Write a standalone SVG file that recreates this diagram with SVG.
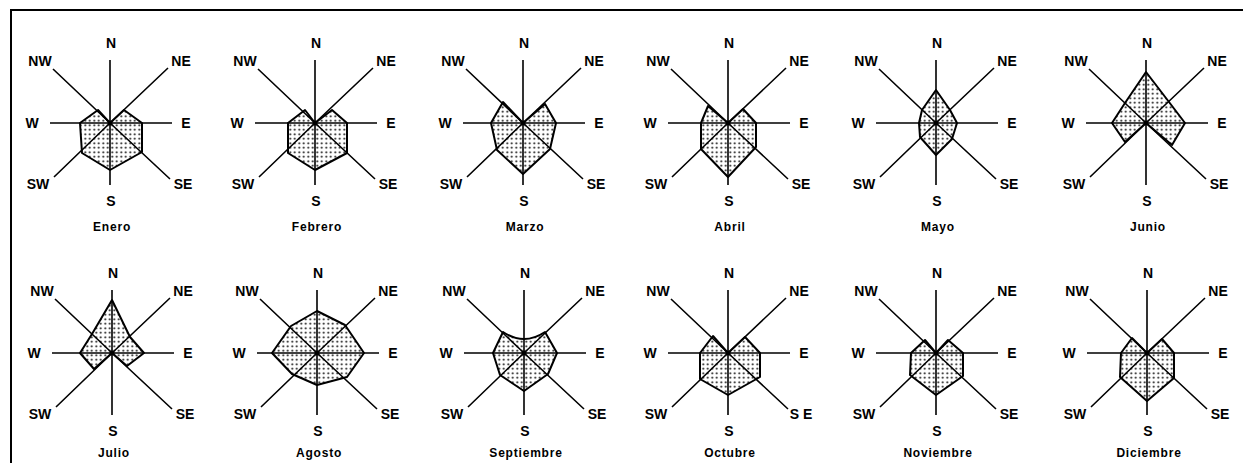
<svg xmlns="http://www.w3.org/2000/svg" xmlns:xlink="http://www.w3.org/1999/xlink" width="1243" height="463" viewBox="0 0 1243 463">
<style>
.poly{fill:url(#dots);stroke:#000;stroke-width:2;stroke-linejoin:round}
.lbl{font-family:"Liberation Sans",Arial,sans-serif;font-weight:bold;font-size:14px;text-anchor:middle;fill:#000}
.mon{font-family:"Liberation Sans",Arial,sans-serif;font-weight:bold;font-size:12px;letter-spacing:0.8px;text-anchor:middle;fill:#000}
.frame{stroke:#000;stroke-width:2;fill:none}
</style>
<defs>
<pattern id="dots" width="4.5" height="4.5" patternUnits="userSpaceOnUse"><rect width="4.5" height="4.5" fill="#fff"/><circle cx="2.25" cy="2.25" r="1" fill="#000"/></pattern>
<path id="axes" d="M0,-63V62M-60,0H62M0,0L-57,-54M0,0L58,-55M0,0L-56,54M0,0L60,56" stroke="#000" stroke-width="1.6" fill="none"/>
</defs>
<path class="frame" d="M11,463V10H1243"/>

<g id="rose-enero" transform="translate(110,123)">
<polygon class="poly" points="0,0 14,-13 32,0 32,29 0,47 -28,30 -30,0 -12,-13"/>
<use xlink:href="#axes"/><circle r="2.5"/>
<text class="lbl" x="1" y="-75">N</text><text class="lbl" x="-70" y="-57">NW</text><text class="lbl" x="71" y="-57">NE</text>
<text class="lbl" x="-78" y="5">W</text><text class="lbl" x="76" y="5">E</text>
<text class="lbl" x="-72" y="66">SW</text><text class="lbl" x="73" y="66">SE</text><text class="lbl" x="1" y="83">S</text>
<text class="mon" x="2" y="108">Enero</text>
</g>

<g id="rose-febrero" transform="translate(315,123)">
<polygon class="poly" points="0,0 17,-13 32,0 32,30 0,47 -27,30 -27,0 -10,-13"/>
<use xlink:href="#axes"/><circle r="2.5"/>
<text class="lbl" x="1" y="-75">N</text><text class="lbl" x="-70" y="-57">NW</text><text class="lbl" x="71" y="-57">NE</text>
<text class="lbl" x="-78" y="5">W</text><text class="lbl" x="76" y="5">E</text>
<text class="lbl" x="-72" y="66">SW</text><text class="lbl" x="73" y="66">SE</text><text class="lbl" x="1" y="83">S</text>
<text class="mon" x="2" y="108">Febrero</text>
</g>

<g id="rose-marzo" transform="translate(523,123)">
<polygon class="poly" points="0,0 22,-19 33,0 27,26 0,51 -26,27 -32,0 -20,-21"/>
<use xlink:href="#axes"/><circle r="2.5"/>
<text class="lbl" x="1" y="-75">N</text><text class="lbl" x="-70" y="-57">NW</text><text class="lbl" x="71" y="-57">NE</text>
<text class="lbl" x="-78" y="5">W</text><text class="lbl" x="76" y="5">E</text>
<text class="lbl" x="-72" y="66">SW</text><text class="lbl" x="73" y="66">SE</text><text class="lbl" x="1" y="83">S</text>
<text class="mon" x="2" y="108">Marzo</text>
</g>

<g id="rose-abril" transform="translate(728,123)">
<polygon class="poly" points="0,0 15,-14 28,0 28,24 0,54 -27,26 -27,0 -20,-17"/>
<use xlink:href="#axes"/><circle r="2.5"/>
<text class="lbl" x="1" y="-75">N</text><text class="lbl" x="-70" y="-57">NW</text><text class="lbl" x="71" y="-57">NE</text>
<text class="lbl" x="-78" y="5">W</text><text class="lbl" x="76" y="5">E</text>
<text class="lbl" x="-72" y="66">SW</text><text class="lbl" x="73" y="66">SE</text><text class="lbl" x="1" y="83">S</text>
<text class="mon" x="2" y="108">Abril</text>
</g>

<g id="rose-mayo" transform="translate(936,123)">
<polygon class="poly" points="0,-33 14,-13 21,0 16,16 0,32 -16,14 -17,0 -14,-13"/>
<use xlink:href="#axes"/><circle r="2.5"/>
<text class="lbl" x="1" y="-75">N</text><text class="lbl" x="-70" y="-57">NW</text><text class="lbl" x="71" y="-57">NE</text>
<text class="lbl" x="-78" y="5">W</text><text class="lbl" x="76" y="5">E</text>
<text class="lbl" x="-72" y="66">SW</text><text class="lbl" x="73" y="66">SE</text><text class="lbl" x="1" y="83">S</text>
<text class="mon" x="2" y="108">Mayo</text>
</g>

<g id="rose-junio" transform="translate(1146,123)">
<polygon class="poly" points="0,-51 23,-21 39,0 26,22 0,0 -21,19 -34,0 -21,-20"/>
<use xlink:href="#axes"/><circle r="2.5"/>
<text class="lbl" x="1" y="-75">N</text><text class="lbl" x="-70" y="-57">NW</text><text class="lbl" x="71" y="-57">NE</text>
<text class="lbl" x="-78" y="5">W</text><text class="lbl" x="76" y="5">E</text>
<text class="lbl" x="-72" y="66">SW</text><text class="lbl" x="73" y="66">SE</text><text class="lbl" x="1" y="83">S</text>
<text class="mon" x="2" y="108">Junio</text>
</g>

<g id="rose-julio" transform="translate(112,353)">
<polygon class="poly" points="0,-53 18,-16 32,0 15,13 0,0 -18,16 -32,0 -20,-19"/>
<use xlink:href="#axes"/><circle r="2.5"/>
<text class="lbl" x="1" y="-75">N</text><text class="lbl" x="-70" y="-57">NW</text><text class="lbl" x="71" y="-57">NE</text>
<text class="lbl" x="-78" y="5">W</text><text class="lbl" x="76" y="5">E</text>
<text class="lbl" x="-72" y="66">SW</text><text class="lbl" x="73" y="66">SE</text><text class="lbl" x="1" y="83">S</text>
<text class="mon" x="2" y="104">Julio</text>
</g>

<g id="rose-agosto" transform="translate(317,353)">
<polygon class="poly" points="0,-42 28,-28 47,0 30,24 0,32 -25,21 -45,0 -26,-27"/>
<use xlink:href="#axes"/><circle r="2.5"/>
<text class="lbl" x="1" y="-75">N</text><text class="lbl" x="-70" y="-57">NW</text><text class="lbl" x="71" y="-57">NE</text>
<text class="lbl" x="-78" y="5">W</text><text class="lbl" x="76" y="5">E</text>
<text class="lbl" x="-72" y="66">SW</text><text class="lbl" x="73" y="66">SE</text><text class="lbl" x="1" y="83">S</text>
<text class="mon" x="2" y="104">Agosto</text>
</g>

<g id="rose-septiembre" transform="translate(524,353)">
<path class="poly" d="M-21,-21Q0,-7 21,-21L33,0L24,21L0,38L-24,22L-31,0Z"/>
<use xlink:href="#axes"/><circle r="2.5"/>
<text class="lbl" x="1" y="-75">N</text><text class="lbl" x="-70" y="-57">NW</text><text class="lbl" x="71" y="-57">NE</text>
<text class="lbl" x="-78" y="5">W</text><text class="lbl" x="76" y="5">E</text>
<text class="lbl" x="-72" y="66">SW</text><text class="lbl" x="73" y="66">SE</text><text class="lbl" x="1" y="83">S</text>
<text class="mon" x="2" y="104">Septiembre</text>
</g>

<g id="rose-octubre" transform="translate(728,353)">
<polygon class="poly" points="0,0 17,-16 32,0 32,24 0,42 -28,26 -28,0 -15,-17"/>
<use xlink:href="#axes"/><circle r="2.5"/>
<text class="lbl" x="1" y="-75">N</text><text class="lbl" x="-70" y="-57">NW</text><text class="lbl" x="71" y="-57">NE</text>
<text class="lbl" x="-78" y="5">W</text><text class="lbl" x="76" y="5">E</text>
<text class="lbl" x="-72" y="66">SW</text><text class="lbl" x="73" y="66">S E</text><text class="lbl" x="1" y="83">S</text>
<text class="mon" x="2" y="104">Octubre</text>
</g>

<g id="rose-noviembre" transform="translate(936,353)">
<polygon class="poly" points="0,0 12,-13 27,0 27,23 0,42 -26,22 -25,0 -11,-13"/>
<use xlink:href="#axes"/><circle r="2.5"/>
<text class="lbl" x="1" y="-75">N</text><text class="lbl" x="-70" y="-57">NW</text><text class="lbl" x="71" y="-57">NE</text>
<text class="lbl" x="-78" y="5">W</text><text class="lbl" x="76" y="5">E</text>
<text class="lbl" x="-72" y="66">SW</text><text class="lbl" x="73" y="66">SE</text><text class="lbl" x="1" y="83">S</text>
<text class="mon" x="2" y="104">Noviembre</text>
</g>

<g id="rose-diciembre" transform="translate(1147,353)">
<polygon class="poly" points="0,0 15,-14 27,0 27,25 0,48 -27,24 -26,0 -15,-15"/>
<use xlink:href="#axes"/><circle r="2.5"/>
<text class="lbl" x="1" y="-75">N</text><text class="lbl" x="-70" y="-57">NW</text><text class="lbl" x="71" y="-57">NE</text>
<text class="lbl" x="-78" y="5">W</text><text class="lbl" x="76" y="5">E</text>
<text class="lbl" x="-72" y="66">SW</text><text class="lbl" x="73" y="66">SE</text><text class="lbl" x="1" y="83">S</text>
<text class="mon" x="2" y="104">Diciembre</text>
</g>
</svg>
